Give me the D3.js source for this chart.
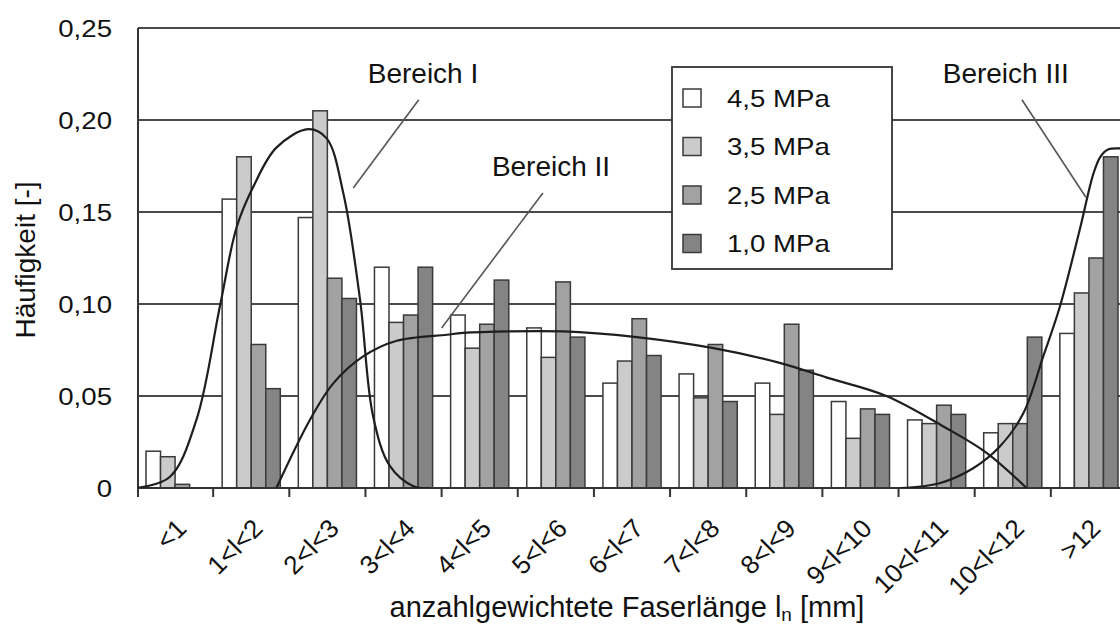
<!DOCTYPE html>
<html><head><meta charset="utf-8">
<script src="https://cdn.jsdelivr.net/npm/d3@7"></script>
<style>
html,body{margin:0;padding:0;background:#fff;}
text{font-family:"Liberation Sans",Arial,sans-serif;fill:#111;}
</style></head>
<body><svg id="chart" width="1120" height="628"></svg>
<script>
// ---- data ----
const categories = ["<1","1<l<2","2<l<3","3<l<4","4<l<5","5<l<6","6<l<7","7<l<8","8<l<9","9<l<10","10<l<11","10<l<12",">12"];
const seriesNames = ["4,5 MPa","3,5 MPa","2,5 MPa","1,0 MPa"];
const s45 = [0.020,0.157,0.147,0.120,0.094,0.087,0.057,0.062,0.057,0.047,0.037,0.030,0.084];
const s35 = [0.017,0.180,0.205,0.090,0.076,0.071,0.069,0.049,0.040,0.027,0.035,0.035,0.106];
const s25 = [0.002,0.078,0.114,0.094,0.089,0.112,0.092,0.078,0.089,0.043,0.045,0.035,0.125];
const s10 = [0.000,0.054,0.103,0.120,0.113,0.082,0.072,0.047,0.064,0.040,0.040,0.082,0.180];
const yTickValues = [0,0.05,0.10,0.15,0.20,0.25];
const yTickLabels = ["0","0,05","0,10","0,15","0,20","0,25"];
// fitted curves: [position along category axis (0..13), frequency]
const curveI = [[0,0],[0.43,0.006],[0.78,0.037],[1.09,0.099],[1.31,0.142],[1.53,0.164],[1.83,0.185],[2.25,0.195],[2.49,0.190],[2.71,0.160],[2.93,0.102],[3.10,0.039],[3.32,0.012],[3.63,0.001],[3.85,0]];
const curveII = [[1.83,0],[2.27,0.037],[2.58,0.057],[2.97,0.0715],[3.41,0.080],[4.07,0.0833],[4.28,0.0843],[5.6,0.0851],[6.56,0.082],[7.57,0.076],[8.44,0.068],[9.06,0.060],[9.84,0.050],[10.59,0.0334],[11.16,0.019],[11.68,0]];
const curveIII = [[10.02,0],[10.54,0.0026],[10.98,0.0107],[11.33,0.0225],[11.64,0.0407],[11.9,0.0715],[12.12,0.0988],[12.38,0.1405],[12.56,0.171],[12.65,0.180],[12.75,0.184],[12.91,0.1846],[13,0.1846]];
const annotations = [
  {label:"Bereich I",  text:[3.03,0.220], from:[3.70,0.211], to:[2.84,0.163]},
  {label:"Bereich II", text:[4.66,0.1696], from:[5.33,0.1603], to:[4.00,0.087]},
  {label:"Bereich III",text:[10.58,0.220], from:[11.62,0.211], to:[12.46,0.158]}
];
const xTitle = "anzahlgewichtete Faserlänge l";
const xTitleSub = "n";
const xTitleEnd = " [mm]";
const yTitle = "Häufigkeit [-]";

// ---- drawing ----
const series = [s45,s35,s25,s10];
const colors = ["#ffffff","#cbcbcb","#a2a2a2","#848484"];
const svg = d3.select("#chart");
const L = 138, R = 1127, T = 28, B = 488;

const x = d3.scaleBand().domain(categories).range([L-1,R]).padding(0);
const xs = d3.scaleBand().domain(d3.range(4)).range([9, x.bandwidth()-9]).padding(0);
const xc = d3.scaleLinear().domain([0,13]).range([L-1,R]);
const y = d3.scaleLinear().domain([0,0.25]).range([B,T]);

svg.append("defs").append("clipPath").attr("id","clip")
  .append("rect").attr("x",L).attr("y",T-5).attr("width",R-L).attr("height",B-T+5);

// gridlines
svg.append("g").selectAll("line").data(yTickValues.filter(v=>v>0)).join("line")
  .attr("x1",L).attr("x2",1120).attr("y1",d=>y(d)).attr("y2",d=>y(d))
  .attr("stroke","#4a4a4a").attr("stroke-width",1.8);

// y tick labels
svg.append("g").selectAll("text").data(yTickValues).join("text")
  .attr("transform",(d)=>`translate(112,${y(d)}) scale(1.15,1)`)
  .attr("text-anchor","end").attr("dy","0.36em")
  .style("font-size","24px")
  .text((d,i)=>yTickLabels[i]);

// bars
const gBars = svg.append("g");
categories.forEach((c,ci)=>{
  series.forEach((s,si)=>{
    const v = s[ci];
    if (v <= 0) return;
    gBars.append("rect")
      .attr("x", x(c)+xs(si)).attr("width", xs.bandwidth())
      .attr("y", y(v)).attr("height", B - y(v))
      .attr("fill", colors[si]).attr("stroke","#3a3a3a").attr("stroke-width",1.5);
  });
});

// axes lines
svg.append("line").attr("x1",L).attr("x2",L).attr("y1",T).attr("y2",B+9).attr("stroke","#333").attr("stroke-width",2);
svg.append("line").attr("x1",L).attr("x2",1120).attr("y1",B).attr("y2",B).attr("stroke","#333").attr("stroke-width",2);
// x tick marks at category boundaries
const bounds = categories.map(c=>x(c)).slice(1);
svg.append("g").selectAll("line").data(bounds).join("line")
  .attr("x1",d=>d).attr("x2",d=>d).attr("y1",B).attr("y2",B+9)
  .attr("stroke","#333").attr("stroke-width",2);

// x tick labels
svg.append("g").selectAll("text").data(categories).join("text")
  .attr("transform",d=>`translate(${x(d)+x.bandwidth()/2+13},530) rotate(-45)`)
  .attr("text-anchor","end")
  .style("font-size","26px")
  .text(d=>d);

// curves
const line = d3.line().x(d=>xc(d[0])).y(d=>y(d[1])).curve(d3.curveCatmullRom.alpha(0.5));
const gCurves = svg.append("g").attr("clip-path","url(#clip)");
[curveI,curveII,curveIII].forEach(cv=>{
  gCurves.append("path").attr("d",line(cv)).attr("fill","none")
    .attr("stroke","#1e1e1e").attr("stroke-width",2.2);
});

// legend
const lg = svg.append("g");
lg.append("rect").attr("x",672).attr("y",67).attr("width",220).attr("height",202)
  .attr("fill","#fff").attr("stroke","#333").attr("stroke-width",1.8);
seriesNames.forEach((n,i)=>{
  const cy = 98 + i*48.5;
  lg.append("rect").attr("x",683).attr("y",cy-9).attr("width",18).attr("height",18)
    .attr("fill",colors[i]).attr("stroke","#3a3a3a").attr("stroke-width",1.5);
  lg.append("text").attr("transform",`translate(727,${cy+8.5}) scale(1.15,1)`)
    .style("font-size","24px").text(n);
});

// annotations
const ga = svg.append("g");
annotations.forEach(a=>{
  ga.append("line").attr("x1",xc(a.from[0])).attr("y1",y(a.from[1]))
    .attr("x2",xc(a.to[0])).attr("y2",y(a.to[1]))
    .attr("stroke","#555").attr("stroke-width",1.6);
  ga.append("text").attr("x",xc(a.text[0])).attr("y",y(a.text[1]))
    .style("font-size","28px").text(a.label);
});

// axis titles
const xt = svg.append("text").attr("x",627).attr("y",617).attr("text-anchor","middle").style("font-size","29px");
xt.append("tspan").text(xTitle);
xt.append("tspan").attr("dy",4).style("font-size","19px").text(xTitleSub);
xt.append("tspan").attr("dy",-4).text(xTitleEnd);

svg.append("text").attr("transform","translate(35,260) rotate(-90)")
  .attr("text-anchor","middle").style("font-size","28px").text(yTitle);
</script></body></html>
